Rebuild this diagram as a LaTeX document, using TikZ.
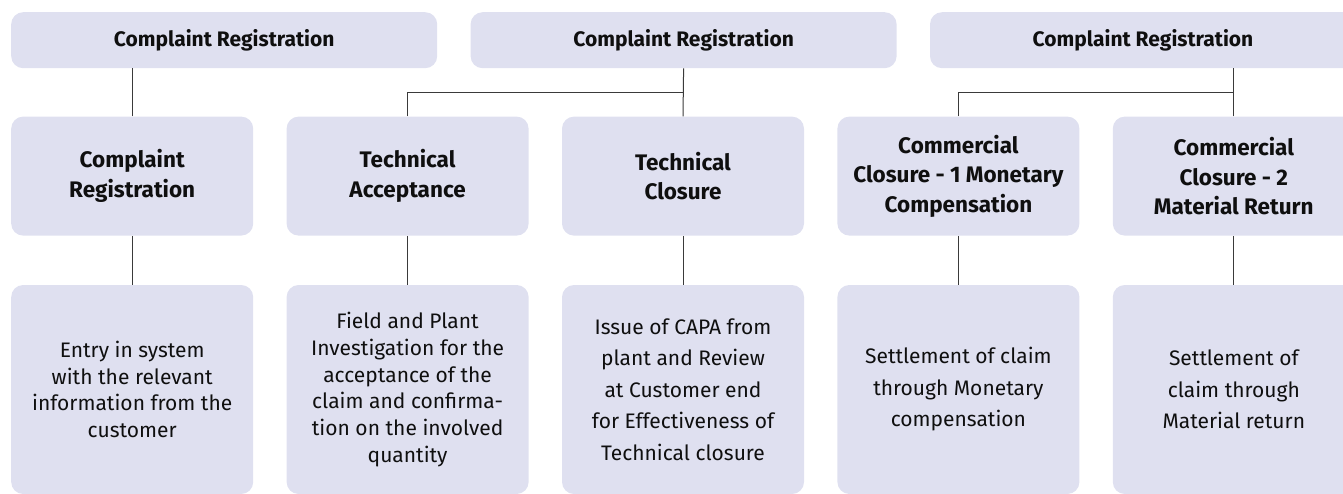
\documentclass[tikz,border=0pt]{standalone}
\usepackage{fontspec}
\setmainfont{Fira Sans}
\usetikzlibrary{positioning, calc}
\definecolor{boxfill}{RGB}{223,224,240}
\definecolor{linegray}{RGB}{58,58,58}
\definecolor{textdark}{RGB}{15,15,15}

\begin{document}
\begin{tikzpicture}[
    x=1pt, y=-1pt,
    node distance=33pt,
    box/.style={rectangle, fill=boxfill, rounded corners=12pt, align=center, text=textdark, inner sep=0pt},
    head/.style={box, minimum width=426pt, minimum height=56pt, font=\fontsize{21}{24}\selectfont\bfseries},
    stage/.style={box, minimum width=242pt, minimum height=119pt, font=\fontsize{22.5}{29.5}\selectfont\bfseries},
    detail/.style={box, minimum width=242pt, minimum height=209pt, font=\fontsize{21}{#1}\selectfont},
    detail/.default=31.5,
    link/.style={draw=linegray, line width=1pt}
]
\useasboundingbox (0,0) rectangle (1343,493);
\clip (0,0) rectangle (1343,493);

% Row 1: registration headers
\node[head, anchor=north west] (top1) at (11,12) {Complaint Registration};
\node[head, right=of top1] (top2) {Complaint Registration};
\node[head, right=of top2] (top3) {Complaint Registration};

% Row 2: stages
\node[stage, below=48pt of top1.south west, anchor=north west] (reg) {Complaint\\Registration};
\node[stage, right=of reg] (acc) {Technical\\Acceptance};
\node[stage, right=of acc] (clo) {Technical\\Closure};
\node[stage, right=of clo] (mon) {Commercial\\Closure - 1 Monetary\\Compensation};
\node[stage, right=of mon] (ret) {Commercial\\Closure - 2\\Material Return};

% Row 3: what happens in each stage
\node[detail=26.7, below=49pt of reg] (regd) {Entry in system\\with the relevant\\information from the\\customer};
\node[detail=26.7, below=49pt of acc] (accd) {Field and Plant\\Investigation for the\\acceptance of the\\claim and confirma-\\tion on the involved\\quantity};
\node[detail, below=49pt of clo] (clod) {Issue of CAPA from\\plant and Review\\at Customer end\\for Effectiveness of\\Technical closure};
\node[detail, below=49pt of mon] (mond) {Settlement of claim\\through Monetary\\compensation};
\node[detail, below=49pt of ret] (retd) {Settlement of\\claim through\\Material return};

% Connectors
\draw[link] (reg.north) -- (reg.north |- top1.south);
\draw[link] (top2.south) -- (clo.north);
\draw[link] (acc.north) |- ($(top2.south)!.5!(clo.north)$);
\draw[link] (ret.north) -- (ret.north |- top3.south);
\draw[link] (mon.north) |- ($(ret.north |- top3.south)!.5!(ret.north)$);
\foreach \s/\d in {reg/regd, acc/accd, clo/clod, mon/mond, ret/retd}
  \draw[link] (\s.south) -- (\d.north);

\end{tikzpicture}
\end{document}
